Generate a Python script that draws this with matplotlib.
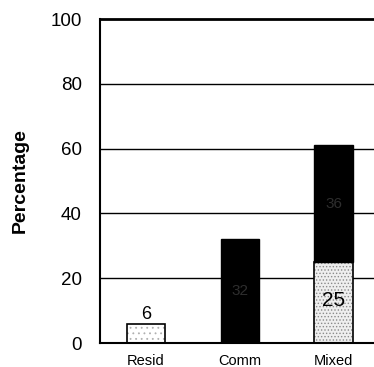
import numpy as np
import matplotlib
matplotlib.use('Agg')
import matplotlib.pyplot as plt

# Chart data
categories = ['Resid', 'Comm', 'Mixed']
resid_part = [6, 0, 0]
comm_part = [0, 32, 0]
mixed_low = [0, 0, 25]
mixed_high = [0, 0, 36]
y_ticks = [0, 20, 40, 60, 80, 100]

plt.rcParams['font.family'] = ['Liberation Sans', 'DejaVu Sans']
plt.rcParams['hatch.linewidth'] = 0.6

fig = plt.figure(figsize=(3.74, 3.67), dpi=100)
ax = fig.add_axes([100 / 374, 24 / 367, 1 - 100 / 374, 324 / 367])

x = np.arange(len(categories))
w = 0.41

# grid lines behind bars
for t in y_ticks[1:-1]:
    ax.axhline(t, color='black', lw=1.0, zorder=0)

# stippled fills (hatch takes the edge colour), then black outlines
ax.bar(x[0], resid_part[0], w, color='white', edgecolor='#b0b0b0', lw=0,
       hatch='...', zorder=2)
ax.bar(x[0], resid_part[0], w, fill=False, edgecolor='black', lw=1.2, zorder=2)
ax.bar(x[1], comm_part[1], w, color='black', edgecolor='black', lw=1.0, zorder=2)
ax.bar(x[2], mixed_low[2], w, color='#eeeeee', edgecolor='#8a8a8a', lw=0,
       hatch='.....', zorder=2)
ax.bar(x[2], mixed_low[2], w, fill=False, edgecolor='black', lw=1.2, zorder=2)
ax.bar(x[2], mixed_high[2], w, bottom=mixed_low[2], color='black',
       edgecolor='black', lw=1.0, zorder=2)

# value labels
ax.text(x[0], resid_part[0] + 0.3, str(resid_part[0]), ha='center', va='bottom',
        fontsize=13, zorder=3)
ax.text(x[1], comm_part[1] / 2, str(comm_part[1]), ha='center', va='center',
        fontsize=11, color='#2e2e2e', zorder=3)
ax.text(x[2], 13, str(mixed_low[2]), ha='center', va='center',
        fontsize=15, zorder=3)
ax.text(x[2], mixed_low[2] + mixed_high[2] / 2, str(mixed_high[2]), ha='center',
        va='center', fontsize=11, color='#2e2e2e', zorder=3)

ax.set_xlim(-0.49, 2.43)
ax.set_ylim(0, 100)
ax.set_yticks(y_ticks)
ax.set_yticklabels([str(t) for t in y_ticks], fontsize=13.5)
ax.set_xticks(x)
ax.set_xticklabels(categories, fontsize=10.5)
ax.tick_params(axis='x', length=0, pad=8)
ax.tick_params(axis='y', length=0, pad=13)

ax.spines['right'].set_visible(False)
ax.spines['top'].set_linewidth(2.0)
ax.spines['left'].set_linewidth(1.5)
ax.spines['bottom'].set_linewidth(1.5)

ax.set_ylabel('Percentage', fontsize=14, fontweight='bold')
ax.yaxis.set_label_coords(-71 / 274, 0.5)

plt.savefig('out.png', dpi=100)
